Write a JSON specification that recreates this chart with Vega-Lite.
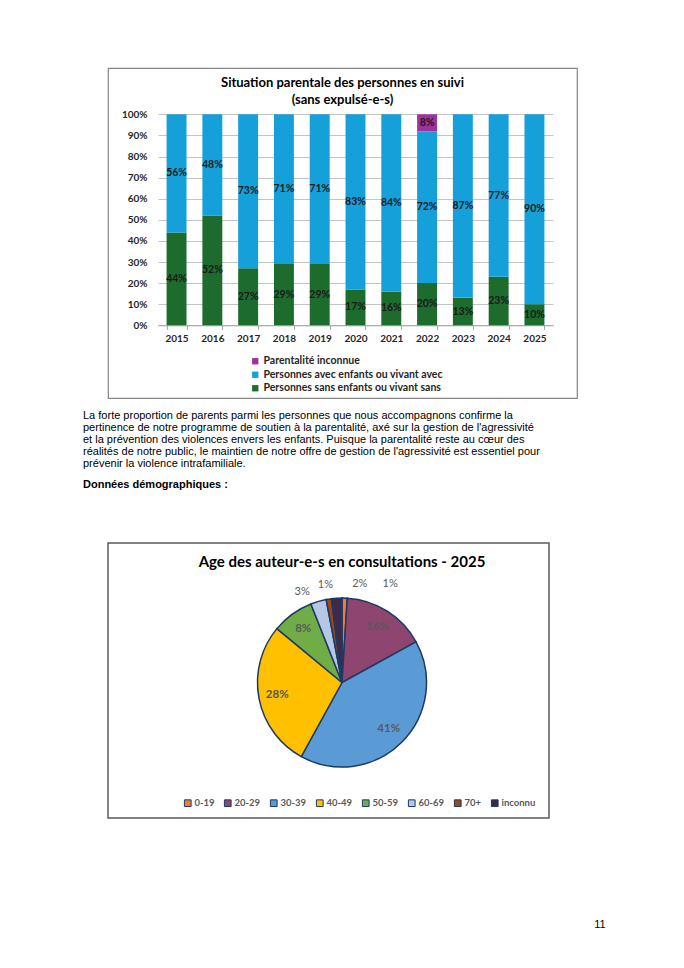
{
  "$schema": "https://vega.github.io/schema/vega-lite/v6.json",
  "background": "white",
  "padding": {"left": 83, "top": 67, "right": 0, "bottom": 0},
  "bounds": "flush",
  "spacing": 145,
  "resolve": {"scale": {"color": "independent"}, "legend": {"color": "independent"}},
  "title": {"text": "11", "orient": "bottom", "anchor": "end", "offset": 100, "dx": 28, "font": "Liberation Sans", "fontSize": 11, "fontWeight": "normal", "color": "#000000"},
  "datasets": {
    "parentalite": [
      {"annee": "2015", "categorie": "Personnes sans enfants ou vivant sans", "part": 0.44},
      {"annee": "2015", "categorie": "Personnes avec enfants ou vivant avec", "part": 0.56},
      {"annee": "2016", "categorie": "Personnes sans enfants ou vivant sans", "part": 0.52},
      {"annee": "2016", "categorie": "Personnes avec enfants ou vivant avec", "part": 0.48},
      {"annee": "2017", "categorie": "Personnes sans enfants ou vivant sans", "part": 0.27},
      {"annee": "2017", "categorie": "Personnes avec enfants ou vivant avec", "part": 0.73},
      {"annee": "2018", "categorie": "Personnes sans enfants ou vivant sans", "part": 0.29},
      {"annee": "2018", "categorie": "Personnes avec enfants ou vivant avec", "part": 0.71},
      {"annee": "2019", "categorie": "Personnes sans enfants ou vivant sans", "part": 0.29},
      {"annee": "2019", "categorie": "Personnes avec enfants ou vivant avec", "part": 0.71},
      {"annee": "2020", "categorie": "Personnes sans enfants ou vivant sans", "part": 0.17},
      {"annee": "2020", "categorie": "Personnes avec enfants ou vivant avec", "part": 0.83},
      {"annee": "2021", "categorie": "Personnes sans enfants ou vivant sans", "part": 0.16},
      {"annee": "2021", "categorie": "Personnes avec enfants ou vivant avec", "part": 0.84},
      {"annee": "2022", "categorie": "Personnes sans enfants ou vivant sans", "part": 0.20},
      {"annee": "2022", "categorie": "Personnes avec enfants ou vivant avec", "part": 0.72},
      {"annee": "2022", "categorie": "Parentalité inconnue", "part": 0.08},
      {"annee": "2023", "categorie": "Personnes sans enfants ou vivant sans", "part": 0.13},
      {"annee": "2023", "categorie": "Personnes avec enfants ou vivant avec", "part": 0.87},
      {"annee": "2024", "categorie": "Personnes sans enfants ou vivant sans", "part": 0.23},
      {"annee": "2024", "categorie": "Personnes avec enfants ou vivant avec", "part": 0.77},
      {"annee": "2025", "categorie": "Personnes sans enfants ou vivant sans", "part": 0.10},
      {"annee": "2025", "categorie": "Personnes avec enfants ou vivant avec", "part": 0.90}
    ],
    "ages": [
      {"age": "0-19", "part": 0.01},
      {"age": "20-29", "part": 0.16},
      {"age": "30-39", "part": 0.41},
      {"age": "40-49", "part": 0.28},
      {"age": "50-59", "part": 0.08},
      {"age": "60-69", "part": 0.03},
      {"age": "70+", "part": 0.01},
      {"age": "inconnu", "part": 0.02}
    ]
  },
  "vconcat": [
    {
      "width": 469,
      "height": 330,
      "view": {"stroke": "#868686", "strokeWidth": 1.2},
      "title": {"text": ["Situation parentale des personnes en suivi", "(sans expulsé-e-s)"], "offset": -39, "frame": "group", "anchor": "middle", "font": "Lato", "fontSize": 13, "fontWeight": "bold", "lineHeight": 17, "color": "#000000"},
      "data": {"name": "parentalite"},
      "encoding": {
        "x": {
          "field": "annee", "type": "ordinal", "title": null,
          "scale": {"type": "band", "range": [50, 445], "paddingInner": 0.443, "paddingOuter": 0.24},
          "axis": {"orient": "bottom", "offset": -72.7, "labelAngle": 0, "domainColor": "#a6a6a6", "tickColor": "#a6a6a6", "tickSize": 4, "tickBand": "extent", "labelPadding": 4, "labelFont": "Lato", "labelFontWeight": "bold", "labelFontSize": 10, "labelColor": "#262626", "grid": false}
        }
      },
      "layer": [
        {
          "mark": {"type": "bar"},
          "encoding": {
            "y": {
              "field": "part", "type": "quantitative", "stack": "zero", "title": null,
              "scale": {"domain": [0, 1], "range": [257.3, 46.3], "nice": false},
              "axis": {"values": [0, 0.1, 0.2, 0.3, 0.4, 0.5, 0.6, 0.7, 0.8, 0.9, 1], "format": ".0%", "offset": -50, "grid": true, "gridColor": "#c4c4c4", "gridWidth": 1, "domain": false, "ticks": false, "labelOverlap": false, "labelPadding": 11, "labelFont": "Lato", "labelFontWeight": "bold", "labelFontSize": 10, "labelColor": "#262626"}
            },
            "color": {
              "field": "categorie", "type": "nominal",
              "scale": {"domain": ["Parentalité inconnue", "Personnes avec enfants ou vivant avec", "Personnes sans enfants ou vivant sans"], "range": ["#A0329E", "#16A0DA", "#1E6B2E"]},
              "legend": {"orient": "none", "legendX": 142, "legendY": 288, "title": null, "direction": "vertical", "symbolType": "square", "symbolSize": 40, "symbolStrokeWidth": 0, "labelFont": "Lato", "labelFontWeight": "bold", "labelFontSize": 10.5, "labelColor": "#262626", "labelLimit": 400, "rowPadding": 2.5, "labelOffset": 3}
            },
            "order": {"field": "categorie", "sort": "descending"}
          }
        },
        {
          "transform": [
            {"stack": "part", "groupby": ["annee"], "sort": [{"field": "categorie", "order": "descending"}], "as": ["v0", "v1"]},
            {"fold": ["v0", "v1"], "as": ["bord", "pos"]},
            {"aggregate": [{"op": "mean", "field": "pos", "as": "milieu"}], "groupby": ["annee", "categorie", "part"]}
          ],
          "mark": {"type": "text", "font": "Lato", "fontWeight": "bold", "fontSize": 10.5, "color": "#1a1a1a"},
          "encoding": {
            "y": {
              "field": "milieu", "type": "quantitative", "title": null,
              "scale": {"domain": [0, 1], "range": [257.3, 46.3], "nice": false},
              "axis": {"values": [0, 0.1, 0.2, 0.3, 0.4, 0.5, 0.6, 0.7, 0.8, 0.9, 1], "format": ".0%", "offset": -50, "grid": true, "gridColor": "#c4c4c4", "gridWidth": 1, "domain": false, "ticks": false, "labelOverlap": false, "labelPadding": 11, "labelFont": "Lato", "labelFontWeight": "bold", "labelFontSize": 10, "labelColor": "#262626"}
            },
            "text": {"field": "part", "type": "quantitative", "format": ".0%"}
          }
        }
      ]
    },
    {
      "title": {
        "text": [
          "La forte proportion de parents parmi les personnes que nous accompagnons confirme la",
          "pertinence de notre programme de soutien à la parentalité, axé sur la gestion de l'agressivité",
          "et la prévention des violences envers les enfants. Puisque la parentalité reste au cœur des",
          "réalités de notre public, le maintien de notre offre de gestion de l'agressivité est essentiel pour",
          "prévenir la violence intrafamiliale."
        ],
        "subtitle": "Données démographiques :",
        "anchor": "start", "frame": "group", "dx": -25, "offset": 52,
        "font": "Liberation Sans", "fontSize": 11, "fontWeight": "normal", "lineHeight": 12, "color": "#000000",
        "subtitleFont": "Liberation Sans", "subtitleFontSize": 11, "subtitleFontWeight": "bold", "subtitleColor": "#000000", "subtitlePadding": 10
      },
      "vconcat": [
        {
          "width": 441,
          "height": 275,
          "view": {"stroke": "#595959", "strokeWidth": 1.5},
          "title": {"text": "Age des auteur-e-s en consultations - 2025", "offset": -27, "dx": 13.5, "frame": "group", "anchor": "middle", "font": "Lato", "fontSize": 15, "fontWeight": "bold", "color": "#000000"},
          "data": {"name": "ages"},
          "encoding": {
            "theta": {"field": "part", "type": "quantitative", "stack": true},
            "order": {"field": "age", "type": "nominal", "sort": "ascending"}
          },
          "layer": [
            {
              "mark": {"type": "arc", "outerRadius": 84.5, "stroke": "#1F3864", "strokeWidth": 1.5, "xOffset": 13.5, "yOffset": 2},
              "encoding": {
                "color": {
                  "field": "age", "type": "nominal",
                  "scale": {"domain": ["0-19", "20-29", "30-39", "40-49", "50-59", "60-69", "70+", "inconnu"], "range": ["#ED7D31", "#8E4570", "#5B9BD5", "#FFC000", "#70AD47", "#B4C7E7", "#9E480E", "#3C2A4D"]},
                  "legend": {"orient": "none", "legendX": 75, "legendY": 255, "direction": "horizontal", "title": null, "symbolType": "square", "symbolSize": 45, "symbolStrokeColor": "#1F3864", "symbolStrokeWidth": 1, "labelFont": "Lato", "labelFontWeight": "bold", "labelFontSize": 9.5, "labelColor": "#595959", "columnPadding": 7, "labelOffset": 2}
                }
              }
            },
            {
              "mark": {"type": "text", "radius": 66, "font": "Lato", "fontWeight": "bold", "fontSize": 11.5, "color": "#595959", "xOffset": 13.5, "yOffset": 2},
              "encoding": {
                "detail": {"field": "age", "type": "nominal"},
                "text": {"field": "part", "type": "quantitative", "format": ".0%", "condition": {"test": "datum.part < 0.05", "value": ""}}
              }
            },
            {
              "mark": {"type": "text", "radius": 100, "font": "Lato", "fontWeight": "normal", "fontSize": 11, "color": "#595959", "xOffset": 13.5, "yOffset": 2,
                "dx": {"expr": "datum.age === '0-19' ? 45 : datum.age === 'inconnu' ? 24 : datum.age === '60-69' ? -12 : -1"},
                "dy": {"expr": "datum.age === '60-69' ? 6 : 1"}},
              "encoding": {
                "detail": {"field": "age", "type": "nominal"},
                "text": {"field": "part", "type": "quantitative", "format": ".0%", "condition": {"test": "datum.part >= 0.05", "value": ""}}
              }
            }
          ]
        }
      ]
    }
  ]
}
